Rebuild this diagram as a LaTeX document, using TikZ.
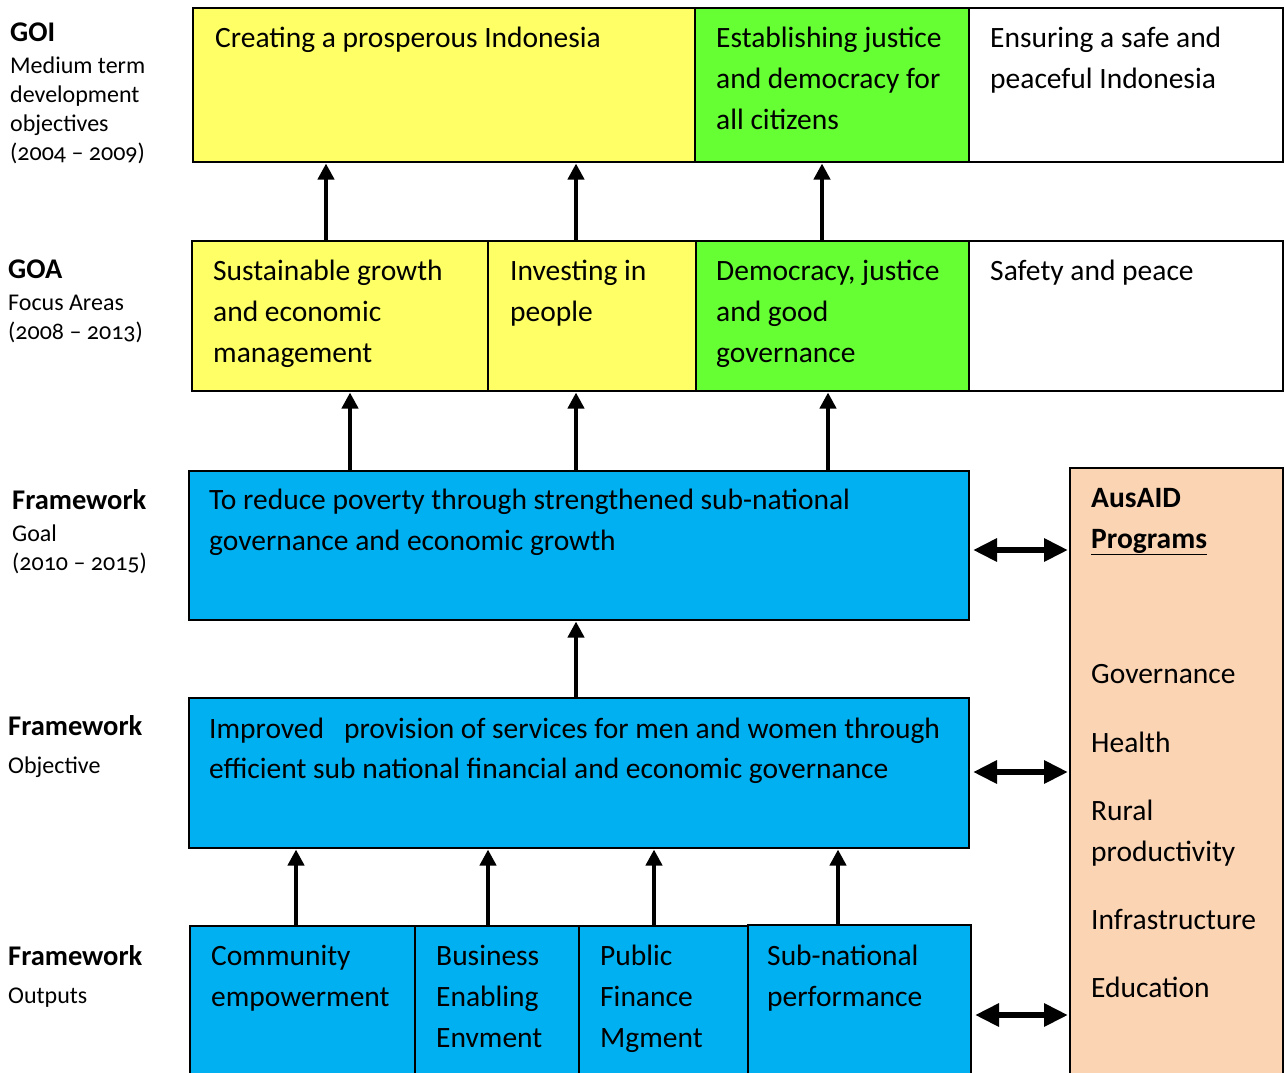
\documentclass[tikz,border=0pt]{standalone}
\usepackage{fontspec}
\setmainfont{Carlito}
\newfontfamily\onumfont{Carlito}[Numbers=OldStyle]
\usetikzlibrary{arrows.meta}
\definecolor{cyel}{HTML}{FFFF66}
\definecolor{cgrn}{HTML}{66FF33}
\definecolor{cblu}{HTML}{00B0F0}
\definecolor{cpch}{HTML}{FBD4B4}
\begin{document}
\begin{tikzpicture}[x=1pt,y=-1pt,
 box/.style={draw=black, line width=2pt, anchor=north west, inner sep=0pt, outer sep=0pt},
 txt/.style={anchor=base west, inner sep=0pt, font=\fontsize{29.5}{41}\selectfont},
 hd/.style={anchor=base west, inner sep=0pt, font=\fontsize{28.5}{32}\selectfont\bfseries},
 sub/.style={anchor=base west, inner sep=0pt, font=\fontsize{24}{28}\selectfont\onumfont},
 up/.style={line width=4.5pt, -{Triangle[width=16pt,length=16pt]}, shorten >=1.5pt},
 both/.style={line width=6pt, {Triangle[width=22pt,length=24pt]}-{Triangle[width=22pt,length=24pt]}, shorten <=4pt, shorten >=2pt}]
\useasboundingbox (0,0) rectangle (1285,1072);
\clip (0,0) rectangle (1285,1072);

% row 1 : GOI
\node[box, fill=cyel, minimum width=502pt, minimum height=154pt] (g1) at (193,8) {};
\node[box, fill=cgrn, minimum width=274pt, minimum height=154pt] (g2) at (695,8) {};
\node[box, fill=white, minimum width=314pt, minimum height=154pt] (g3) at (969,8) {};
% row 2 : GOA
\node[box, fill=cyel, minimum width=296pt, minimum height=150pt] (a1) at (192,241) {};
\node[box, fill=cyel, minimum width=208pt, minimum height=150pt] (a2) at (488,241) {};
\node[box, fill=cgrn, minimum width=273pt, minimum height=150pt] (a3) at (696,241) {};
\node[box, fill=white, minimum width=314pt, minimum height=150pt] (a4) at (969,241) {};
% goal, objective
\node[box, fill=cblu, minimum width=780pt, minimum height=149pt] (goal) at (189,471) {};
\node[box, fill=cblu, minimum width=780pt, minimum height=150pt] (obj) at (189,698) {};
% outputs
\node[box, fill=cblu, minimum width=225pt, minimum height=200pt] (o1) at (190,926) {};
\node[box, fill=cblu, minimum width=164pt, minimum height=200pt] (o2) at (415,926) {};
\node[box, fill=cblu, minimum width=169pt, minimum height=200pt] (o3) at (579,926) {};
\node[box, fill=cblu, minimum width=223pt, minimum height=200pt] (o4) at (748,925) {};
% AusAID
\node[box, fill=cpch, minimum width=213pt, minimum height=700pt] (aus) at (1070,468) {};

% arrows
\draw[up] (326,0 |- a1.north) -- (326,0 |- g1.south);
\draw[up] (576,0 |- a2.north) -- (576,0 |- g1.south);
\draw[up] (822,0 |- a3.north) -- (822,0 |- g2.south);
\draw[up] (350,0 |- goal.north) -- (350,0 |- a1.south);
\draw[up] (576,0 |- goal.north) -- (576,0 |- a2.south);
\draw[up] (828,0 |- goal.north) -- (828,0 |- a3.south);
\draw[up] (576,0 |- obj.north) -- (576,0 |- goal.south);
\draw[up] (296,0 |- o1.north) -- (296,0 |- obj.south);
\draw[up] (488,0 |- o2.north) -- (488,0 |- obj.south);
\draw[up] (654,0 |- o3.north) -- (654,0 |- obj.south);
\draw[up] (838,0 |- o4.north) -- (838,0 |- obj.south);
\draw[both] (goal.east |- 0,550) -- (aus.west |- 0,550);
\draw[both] (obj.east |- 0,772) -- (aus.west |- 0,772);
\draw[both] (o4.east |- 0,1015) -- (aus.west |- 0,1015);

% box texts
\node[txt] (t1) at (215,47) {Creating a prosperous Indonesia};
\node[txt] (t2a) at (716,47) {Establishing justice};
\node[txt] (t2b) at (716,88) {and democracy for};
\node[txt] (t2c) at (716,129) {all citizens};
\node[txt] (t3a) at (990,47) {Ensuring a safe and};
\node[txt] (t3b) at (990,88) {peaceful Indonesia};

\node[txt] (s1a) at (213,280) {Sustainable growth};
\node[txt] (s1b) at (213,321) {and economic};
\node[txt] (s1c) at (213,362) {management};
\node[txt] (s2a) at (510,280) {Investing in};
\node[txt] (s2b) at (510,321) {people};
\node[txt] (s3a) at (716,280) {Democracy, justice};
\node[txt] (s3b) at (716,321) {and good};
\node[txt] (s3c) at (716,362) {governance};
\node[txt] (s4a) at (990,280) {Safety and peace};

\node[txt] (gl1) at (209,509) {To reduce poverty through strengthened sub-national};
\node[txt] (gl2) at (209,550) {governance and economic growth};

\node[txt] (ob1) at (209,738) {Improved\ \ \ provision of services for men and women through};
\node[txt] (ob2) at (209,778) {efficient sub national financial and economic governance};

\node[txt] (p1a) at (211,965) {Community};
\node[txt] (p1b) at (211,1006) {empowerment};
\node[txt] (p2a) at (436,965) {Business};
\node[txt] (p2b) at (436,1006) {Enabling};
\node[txt] (p2c) at (436,1047) {Envment};
\node[txt] (p3a) at (600,965) {Public};
\node[txt] (p3b) at (600,1006) {Finance};
\node[txt] (p3c) at (600,1047) {Mgment};
\node[txt] (p4a) at (767,965) {Sub-national};
\node[txt] (p4b) at (767,1006) {performance};

\node[txt, font=\fontsize{29.5}{41}\selectfont\bfseries] (au1) at (1091,507) {AusAID};
\node[txt, font=\fontsize{29.5}{41}\selectfont\bfseries] (au2) at (1091,548) {\underline{Programs}};
\node[txt] (pr1) at (1091,683) {Governance};
\node[txt] (pr2) at (1091,752) {Health};
\node[txt] (pr3) at (1091,820) {Rural};
\node[txt] (pr4) at (1091,861) {productivity};
\node[txt] (pr5) at (1091,929) {Infrastructure};
\node[txt] (pr6) at (1091,997) {Education};

% left labels
\node[hd] (l1) at (10,41) {GOI};
\node[sub] (l1a) at (10,73) {Medium term};
\node[sub] (l1b) at (10,102) {development};
\node[sub] (l1c) at (10,131) {objectives};
\node[sub] (l1d) at (10,160) {(2004 – 2009)};
\node[hd] (l2) at (8,278) {GOA};
\node[sub] (l2a) at (8,310) {Focus Areas};
\node[sub] (l2b) at (8,339) {(2008 – 2013)};
\node[hd] (l3) at (12,509) {Framework};
\node[sub] (l3a) at (12,541) {Goal};
\node[sub] (l3b) at (12,570) {(2010 – 2015)};
\node[hd] (l4) at (8,735) {Framework};
\node[sub] (l4a) at (8,773) {Objective};
\node[hd] (l5) at (8,965) {Framework};
\node[sub] (l5a) at (8,1003) {Outputs};
\end{tikzpicture}
\end{document}
